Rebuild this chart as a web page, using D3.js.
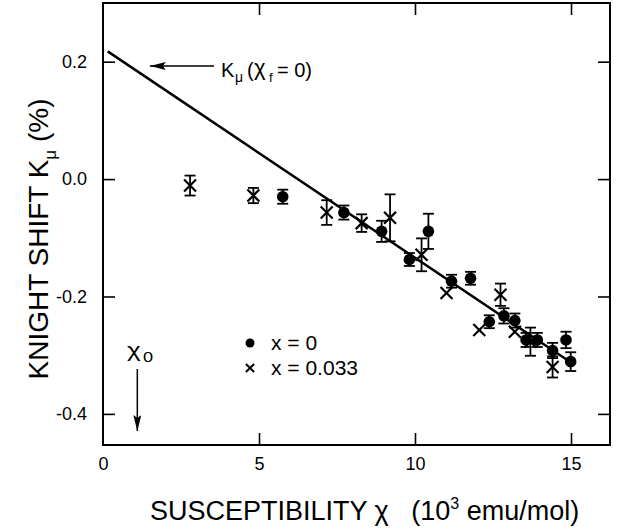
<!DOCTYPE html>
<html>
<head>
<meta charset="utf-8">
<script src="https://cdn.jsdelivr.net/npm/d3@7"></script>
<style>
  body { margin: 0; background: #fff; }
  svg { display: block; font-family: "Liberation Sans", Arial, sans-serif; }
  text { white-space: pre; }
</style>
</head>
<body>
<div id="chart"></div>
<script>
// x = 0 (filled dots)
const chi0 = [5.76, 7.72, 8.93, 9.82, 10.43, 11.17, 11.78, 12.38, 12.85, 13.2, 13.56, 13.92, 14.41, 14.84, 14.99];
const k0 = [-0.030, -0.057, -0.089, -0.137, -0.089, -0.174, -0.169, -0.243, -0.233, -0.241, -0.274, -0.274, -0.292, -0.274, -0.311];
const err0 = [0.012, 0.012, 0.018, 0.011, 0.030, 0.011, 0.011, 0.011, 0.013, 0.012, 0.012, 0.012, 0.013, 0.014, 0.016];

// x = 0.033 (crosses)
const chi1 = [2.79, 4.82, 7.17, 8.29, 9.2, 10.21, 11.01, 12.06, 12.74, 13.2, 13.7, 14.41];
const k1 = [-0.011, -0.028, -0.057, -0.075, -0.066, -0.129, -0.194, -0.257, -0.197, -0.260, -0.277, -0.320];
const err1 = [0.017, 0.013, 0.021, 0.015, 0.040, 0.028, 0, 0, 0.019, 0, 0.024, 0.018];

// fitted line
const fitChi = [0.15, 15];
const fitK = [0.2176, -0.3125];

const xTicks = [0, 5, 10, 15];
const yTicks = [0.2, 0.0, -0.2, -0.4];

const width = 618, height = 531;
const margin = { top: 3, right: 8, bottom: 86, left: 103 };

const svg = d3.select('#chart').append('svg')
    .attr('width', width)
    .attr('height', height);

const x = d3.scaleLinear()
    .domain([0, 16.25])
    .range([margin.left, width - margin.right]);

const y = d3.scaleLinear()
    .domain([-0.453, 0.300])
    .range([height - margin.bottom, margin.top]);

const fmtY = d => d3.format('.1f')(d).replace('−', '-');

// axes with inward ticks
const axisStyle = g => {
    g.select('.domain').remove();
    g.selectAll('line').attr('stroke', '#000').attr('stroke-width', 1.6);
    g.selectAll('text').attr('fill', '#000').attr('font-size', 18);
};

svg.append('g')
    .attr('transform', `translate(0,${y.range()[0]})`)
    .call(d3.axisBottom(x).tickValues(xTicks).tickSize(-12).tickPadding(12).tickFormat(d3.format('d')))
    .call(axisStyle)
    .call(g => g.selectAll('.tick').filter(d => d === 0).select('line').remove());

svg.append('g')
    .attr('transform', `translate(0,${y.range()[1]})`)
    .call(d3.axisTop(x).tickValues(xTicks.slice(1)).tickSize(-12).tickFormat(''))
    .call(axisStyle);

svg.append('g')
    .attr('transform', `translate(${x.range()[0]},0)`)
    .call(d3.axisLeft(y).tickValues(yTicks).tickSize(-12).tickPadding(16).tickFormat(fmtY))
    .call(axisStyle);

svg.append('g')
    .attr('transform', `translate(${x.range()[1]},0)`)
    .call(d3.axisRight(y).tickValues(yTicks).tickSize(-12).tickFormat(''))
    .call(axisStyle);

// frame
svg.append('rect')
    .attr('x', x.range()[0])
    .attr('y', y.range()[1])
    .attr('width', x.range()[1] - x.range()[0])
    .attr('height', y.range()[0] - y.range()[1])
    .attr('fill', 'none')
    .attr('stroke', '#000')
    .attr('stroke-width', 2);

// fit line
svg.append('line')
    .attr('x1', x(fitChi[0])).attr('y1', y(fitK[0]))
    .attr('x2', x(fitChi[1])).attr('y2', y(fitK[1]))
    .attr('stroke', '#000')
    .attr('stroke-width', 2.5);

const set0 = chi0.map((c, i) => ({ c: c, k: k0[i], e: err0[i] }));
const set1 = chi1.map((c, i) => ({ c: c, k: k1[i], e: err1[i] }));

// error bars
function errorBars(data) {
    const g = svg.append('g').attr('stroke', '#000').attr('stroke-width', 1.8);
    const withErr = data.filter(d => d.e > 0);
    g.selectAll('line.v').data(withErr).join('line')
        .attr('x1', d => x(d.c)).attr('x2', d => x(d.c))
        .attr('y1', d => y(d.k + d.e)).attr('y2', d => y(d.k - d.e));
    g.selectAll('line.t').data(withErr).join('line')
        .attr('x1', d => x(d.c) - 5.5).attr('x2', d => x(d.c) + 5.5)
        .attr('y1', d => y(d.k + d.e)).attr('y2', d => y(d.k + d.e));
    g.selectAll('line.b').data(withErr).join('line')
        .attr('x1', d => x(d.c) - 5.5).attr('x2', d => x(d.c) + 5.5)
        .attr('y1', d => y(d.k - d.e)).attr('y2', d => y(d.k - d.e));
}
errorBars(set0);
errorBars(set1);

// crosses
const cross = d3.symbol().type(d3.symbolX).size(95);
svg.append('g').selectAll('path')
    .data(set1)
    .join('path')
    .attr('d', cross)
    .attr('transform', d => `translate(${x(d.c)},${y(d.k)})`)
    .attr('fill', 'none')
    .attr('stroke', '#000')
    .attr('stroke-width', 2.2);

// dots
svg.append('g').selectAll('circle')
    .data(set0)
    .join('circle')
    .attr('cx', d => x(d.c))
    .attr('cy', d => y(d.k))
    .attr('r', 5.8)
    .attr('fill', '#000');

// legend
svg.append('circle').attr('cx', 250).attr('cy', 343).attr('r', 4.5).attr('fill', '#000');
svg.append('path').attr('d', d3.symbol().type(d3.symbolX).size(45))
    .attr('transform', 'translate(250,368)')
    .attr('stroke', '#000').attr('stroke-width', 2);
const lg = svg.append('g').attr('font-size', 21);
lg.append('text').attr('x', 271).attr('y', 350).text('x = 0');
lg.append('text').attr('x', 271).attr('y', 375).text('x = 0.033');

// arrowheads
svg.append('defs').append('marker')
    .attr('id', 'arrow')
    .attr('viewBox', '0 0 16 8')
    .attr('refX', 16).attr('refY', 4)
    .attr('markerWidth', 16).attr('markerHeight', 8)
    .attr('markerUnits', 'userSpaceOnUse')
    .attr('orient', 'auto')
    .append('path')
    .attr('d', 'M0,0 L16,4 L0,8 L3,4 Z')
    .attr('fill', '#000');

// K_mu annotation
svg.append('line')
    .attr('x1', 214).attr('y1', 66)
    .attr('x2', x(1.5)).attr('y2', 66)
    .attr('stroke', '#000').attr('stroke-width', 1.5)
    .attr('marker-end', 'url(#arrow)');

const ann = svg.append('g').attr('font-size', 20);
ann.append('text').attr('x', 221).attr('y', 77).text('K');
ann.append('text').attr('x', 235).attr('y', 82).attr('font-size', 14).text('μ');
ann.append('text').attr('x', 247).attr('y', 77).text('(');
ann.append('text').attr('x', 254).attr('y', 75).attr('font-size', 22).text('χ');
ann.append('text').attr('x', 269).attr('y', 82).attr('font-size', 13).text('f');
ann.append('text').attr('x', 277).attr('y', 77).text('= 0)');

// chi_0 annotation
const c0 = svg.append('g').attr('transform', 'translate(127,357) scale(1.3,1)');
c0.append('text').attr('font-size', 20).text('χ');
c0.append('text').attr('x', 12.3).attr('y', 5).attr('font-size', 14).text('0');

svg.append('line')
    .attr('x1', x(1.1)).attr('y1', 369)
    .attr('x2', x(1.1)).attr('y2', 431)
    .attr('stroke', '#000').attr('stroke-width', 1.5)
    .attr('marker-end', 'url(#arrow)');

// axis titles
const xt = svg.append('text')
    .attr('x', 150).attr('y', 520)
    .attr('font-size', 27);
xt.append('tspan').text('SUSCEPTIBILITY χ   (10');
xt.append('tspan').attr('font-size', 16).attr('dy', -11).text('3');
xt.append('tspan').attr('dy', 11).text(' emu/mol)');

const yt = svg.append('text')
    .attr('transform', 'translate(48,239) rotate(-90)')
    .attr('text-anchor', 'middle')
    .attr('font-size', 28);
yt.append('tspan').text('KNIGHT SHIFT K');
yt.append('tspan').attr('font-size', 17).attr('dy', 8).text('μ');
yt.append('tspan').attr('dy', -8).text(' (%)');
</script>
</body>
</html>
